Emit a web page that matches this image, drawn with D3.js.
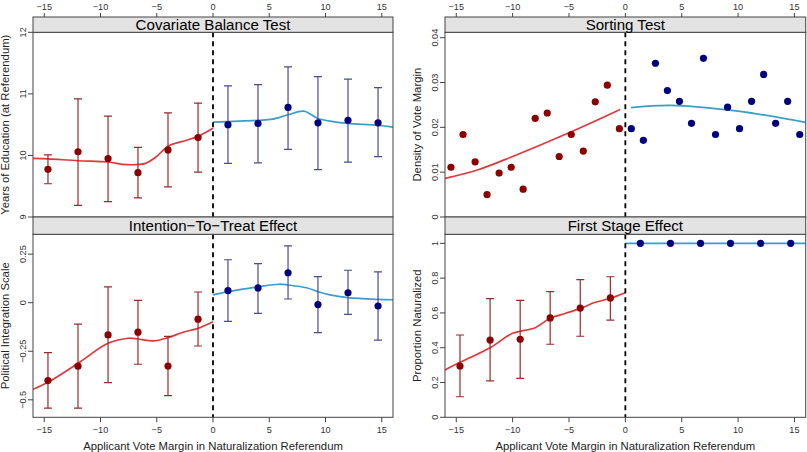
<!DOCTYPE html>
<html><head><meta charset="utf-8">
<script src="https://cdn.jsdelivr.net/npm/d3@7/dist/d3.min.js"></script>
<style>body{margin:0;background:#fff}svg{display:block;font-family:"Liberation Sans",Arial,sans-serif}</style>
</head><body><svg id="c" width="807" height="452"></svg>
<script>
// ---- data ----
const xTicks = [-15, -10, -5, 0, 5, 10, 15];
const xTickLabels = ["\u221215", "\u221210", "\u22125", "0", "5", "10", "15"];
const binLeft = [-14.67, -12, -9.33, -6.67, -4, -1.33];
const binRight = [1.33, 4, 6.67, 9.33, 12, 14.67];

// Covariate balance
const covLeft = [9.775, 10.06, 9.95, 9.72, 10.09, 10.29];
const covLeftHi = [10.01, 10.92, 10.64, 10.13, 10.69, 10.85];
const covLeftLo = [9.54, 9.19, 9.25, 9.31, 9.49, 9.73];
const covRight = [10.50, 10.52, 10.78, 10.53, 10.57, 10.53];
const covRightHi = [11.13, 11.15, 11.44, 11.28, 11.24, 11.10];
const covRightLo = [9.87, 9.88, 10.10, 9.77, 9.89, 9.98];
const covFitLX = [-16, -14.67, -12, -9.33, -7.7, -6.0, -5.1, -4, -2.67, -1.33, 0];
const covFitLY = [9.953, 9.945, 9.914, 9.893, 9.85, 9.872, 9.97, 10.15, 10.23, 10.31, 10.44];
const covFitRX = [0, 4, 5.3, 6.67, 8.07, 9.33, 10.67, 12, 14.67, 16];
const covFitRY = [10.54, 10.57, 10.59, 10.66, 10.72, 10.60, 10.55, 10.52, 10.49, 10.46];
const covTicks = [9, 10, 11, 12];
const covTickLabels = ["9", "10", "11", "12"];

// Intention-to-treat
const ittLeft = [-0.401, -0.327, -0.166, -0.152, -0.326, -0.085];
const ittLeftHi = [-0.257, -0.110, 0.081, 0.012, -0.173, 0.055];
const ittLeftLo = [-0.543, -0.543, -0.411, -0.317, -0.478, -0.223];
const ittRight = [0.062, 0.076, 0.154, -0.010, 0.051, -0.017];
const ittRightHi = [0.221, 0.201, 0.292, 0.134, 0.167, 0.159];
const ittRightLo = [-0.096, -0.055, 0.019, -0.154, -0.060, -0.193];
const ittFitLX = [-16, -14.67, -12, -9.33, -7.5, -6.67, -5.3, -4, -2.67, -1.33, 0];
const ittFitLY = [-0.446, -0.41, -0.312, -0.209, -0.183, -0.187, -0.197, -0.180, -0.152, -0.132, -0.098];
const ittFitRX = [0, 1.33, 4, 5.9, 6.67, 8.3, 9.33, 10.4, 12, 14.67, 16];
const ittFitRY = [0.040, 0.057, 0.082, 0.095, 0.091, 0.077, 0.057, 0.040, 0.026, 0.017, 0.015];
const ittTicks = [-0.5, -0.25, 0, 0.25];
const ittTickLabels = ["\u22120.5", "\u22120.25", "0", "0.25"];

// Sorting test
const sortLeftX = [-15.47, -14.4, -13.33, -12.27, -11.2, -10.13, -9.07, -8.0, -6.93, -5.87, -4.8, -3.73, -2.67, -1.6, -0.53];
const sortLeftY = [0.0111, 0.0184, 0.0123, 0.0050, 0.0098, 0.0111, 0.0062, 0.0220, 0.0232, 0.0135, 0.0184, 0.0147, 0.0257, 0.0294, 0.0197];
const sortRightX = [0.53, 1.6, 2.67, 3.73, 4.8, 5.87, 6.93, 8.0, 9.07, 10.13, 11.2, 12.27, 13.33, 14.4, 15.47];
const sortRightY = [0.0197, 0.0171, 0.0343, 0.0282, 0.0258, 0.0209, 0.0354, 0.0184, 0.0245, 0.0197, 0.0258, 0.0318, 0.0209, 0.0258, 0.0184];
const sortFitLX = [-16, -13, -10, -5, -0.47];
const sortFitLY = [0.0086, 0.0106, 0.0135, 0.0188, 0.0240];
const sortFitRX = [0.5, 4, 10, 16];
const sortFitRY = [0.0244, 0.0249, 0.0236, 0.0211];
const sortTicks = [0, 0.01, 0.02, 0.03, 0.04];
const sortTickLabels = ["0", "0.01", "0.02", "0.03", "0.04"];

// First stage
const fsLeft = [0.295, 0.444, 0.448, 0.571, 0.628, 0.686];
const fsLeftHi = [0.473, 0.682, 0.672, 0.722, 0.791, 0.808];
const fsLeftLo = [0.118, 0.209, 0.224, 0.420, 0.466, 0.559];
const fsRight = [1, 1, 1, 1, 1, 1];
const fsFitLX = [-16, -14.67, -12, -10, -8, -6.67, -5.3, -4, -2.67, -1.33, 0];
const fsFitLY = [0.272, 0.316, 0.400, 0.483, 0.515, 0.569, 0.598, 0.626, 0.661, 0.684, 0.716];
const fsFitRX = [0, 16];
const fsFitRY = [1, 1];
const fsTicks = [0, 0.2, 0.4, 0.6, 0.8, 1];
const fsTickLabels = ["0", "0.2", "0.4", "0.6", "0.8", "1"];

const titles = ["Covariate Balance Test", "Intention\u2212To\u2212Treat Effect", "Sorting Test", "First Stage Effect"];
const yTitles = ["Years of Education (at Referendum)", "Political Integration Scale", "Density of Vote Margin", "Proportion Naturalized"];
const xTitle = "Applicant Vote Margin in Naturalization Referendum";

// ---- styles ----
const C = {
  redPt: "#8b0000", redBar: "#9a2a2a", redLine: "#e0383a",
  bluePt: "#00007f", blueBar: "#4a4a96", blueLine: "#3a9ec8",
  strip: "#e3e3e3", border: "#444"
};

const svg = d3.select("#c");

// font sizes chosen so text widths match the reference
function sizeFor(str, targetW) {
  const t = svg.append("text").attr("font-size", 100).text(str);
  const w = t.node().getComputedTextLength();
  t.remove();
  return 100 * targetW / w;
}
const labelSize = sizeFor(xTitle, 260);
const tickSize = sizeFor("\u221215", 15.5);
const titleSize = sizeFor(titles[0], 155);

const cols = [[33, 393], [445, 805.7]];
const rows = [{strip: 17, top: 32.3, bottom: 217}, {strip: 217, top: 234.3, bottom: 417.3}];

function panel(col, row, cfg) {
  const [x0, x1] = cols[col];
  const r = rows[row];
  const x = d3.scaleLinear().domain([-16, 16]).range([x0, x1]);
  const y = d3.scaleLinear().domain(cfg.ydom).range([r.bottom, r.top]);
  const g = svg.append("g");
  const clipId = "clip" + col + row;
  svg.append("clipPath").attr("id", clipId).append("rect")
    .attr("x", x0).attr("y", r.top).attr("width", x1 - x0).attr("height", r.bottom - r.top);
  const pg = g.append("g").attr("clip-path", `url(#${clipId})`);

  // fit lines
  const line = d3.line().x(d => x(d[0])).y(d => y(d[1])).curve(d3.curveCatmullRom.alpha(0.5));
  pg.append("path").datum(d3.zip(cfg.fitLX, cfg.fitLY)).attr("d", line)
    .attr("fill", "none").attr("stroke", C.redLine).attr("stroke-width", 1.7);
  pg.append("path").datum(d3.zip(cfg.fitRX, cfg.fitRY)).attr("d", line)
    .attr("fill", "none").attr("stroke", C.blueLine).attr("stroke-width", 1.7);

  // error bars
  function bars(xs, hi, lo, col) {
    if (!hi) return;
    xs.forEach((xv, i) => {
      const bx = x(xv);
      const eg = pg.append("g").attr("stroke", col).attr("stroke-width", 1.2);
      eg.append("line").attr("x1", bx).attr("x2", bx).attr("y1", y(hi[i])).attr("y2", y(lo[i]));
      eg.append("line").attr("x1", bx - 4).attr("x2", bx + 4).attr("y1", y(hi[i])).attr("y2", y(hi[i]));
      eg.append("line").attr("x1", bx - 4).attr("x2", bx + 4).attr("y1", y(lo[i])).attr("y2", y(lo[i]));
    });
  }
  bars(cfg.lx, cfg.lhi, cfg.llo, C.redBar);
  bars(cfg.rx, cfg.rhi, cfg.rlo, C.blueBar);

  // points
  pg.selectAll(null).data(d3.zip(cfg.lx, cfg.ly)).join("circle")
    .attr("cx", d => x(d[0])).attr("cy", d => y(d[1])).attr("r", 3.6).attr("fill", C.redPt);
  pg.selectAll(null).data(d3.zip(cfg.rx, cfg.ry)).join("circle")
    .attr("cx", d => x(d[0])).attr("cy", d => y(d[1])).attr("r", 3.6).attr("fill", C.bluePt);

  // cutoff line
  g.append("line").attr("x1", x(0)).attr("x2", x(0)).attr("y1", r.top).attr("y2", r.bottom)
    .attr("stroke", "#000").attr("stroke-width", 1.8).attr("stroke-dasharray", "5,4");

  // box
  g.append("rect").attr("x", x0).attr("y", r.top).attr("width", x1 - x0).attr("height", r.bottom - r.top)
    .attr("fill", "none").attr("stroke", C.border).attr("stroke-width", 1);
  // strip
  g.append("rect").attr("x", x0).attr("y", r.strip).attr("width", x1 - x0).attr("height", r.top - r.strip)
    .attr("fill", C.strip).attr("stroke", C.border).attr("stroke-width", 1);
  g.append("text").attr("x", (x0 + x1) / 2).attr("y", (r.strip + r.top) / 2 + titleSize * 0.36)
    .attr("text-anchor", "middle").attr("font-size", titleSize).attr("fill", "#000").text(cfg.title);

  // y axis
  const ya = g.append("g");
  cfg.yticks.forEach((t, i) => {
    const yy = y(t);
    ya.append("line").attr("x1", x0 - 5).attr("x2", x0).attr("y1", yy).attr("y2", yy).attr("stroke", C.border);
    ya.append("text").attr("transform", `translate(${x0 - 7},${yy}) rotate(-90)`)
      .attr("text-anchor", "middle").attr("font-size", tickSize).attr("fill", "#333").text(cfg.ytickLabels[i]);
  });
  g.append("text").attr("transform", `translate(${x0 - 24},${(r.top + r.bottom) / 2}) rotate(-90)`)
    .attr("text-anchor", "middle").attr("font-size", labelSize).attr("fill", "#222").text(cfg.ytitle);

  // x axis
  if (row === 0) {
    xTicks.forEach((t, i) => {
      g.append("line").attr("x1", x(t)).attr("x2", x(t)).attr("y1", r.strip - 4).attr("y2", r.strip).attr("stroke", C.border);
      g.append("text").attr("x", x(t)).attr("y", 10).attr("text-anchor", "middle")
        .attr("font-size", tickSize).attr("fill", "#333").text(xTickLabels[i]);
    });
  } else {
    xTicks.forEach((t, i) => {
      g.append("line").attr("x1", x(t)).attr("x2", x(t)).attr("y1", r.bottom).attr("y2", r.bottom + 5).attr("stroke", C.border);
      g.append("text").attr("x", x(t)).attr("y", r.bottom + 15.5).attr("text-anchor", "middle")
        .attr("font-size", tickSize).attr("fill", "#333").text(xTickLabels[i]);
    });
    g.append("text").attr("x", (x0 + x1) / 2).attr("y", 449.5).attr("text-anchor", "middle")
      .attr("font-size", labelSize).attr("fill", "#222").text(xTitle);
  }
}

panel(0, 0, {ydom: [9, 12], yticks: covTicks, ytickLabels: covTickLabels, title: titles[0], ytitle: yTitles[0],
  lx: binLeft, ly: covLeft, lhi: covLeftHi, llo: covLeftLo, rx: binRight, ry: covRight, rhi: covRightHi, rlo: covRightLo,
  fitLX: covFitLX, fitLY: covFitLY, fitRX: covFitRX, fitRY: covFitRY});
panel(0, 1, {ydom: [-0.59, 0.352], yticks: ittTicks, ytickLabels: ittTickLabels, title: titles[1], ytitle: yTitles[1],
  lx: binLeft, ly: ittLeft, lhi: ittLeftHi, llo: ittLeftLo, rx: binRight, ry: ittRight, rhi: ittRightHi, rlo: ittRightLo,
  fitLX: ittFitLX, fitLY: ittFitLY, fitRX: ittFitRX, fitRY: ittFitRY});
panel(1, 0, {ydom: [0, 0.0412], yticks: sortTicks, ytickLabels: sortTickLabels, title: titles[2], ytitle: yTitles[2],
  lx: sortLeftX, ly: sortLeftY, rx: sortRightX, ry: sortRightY,
  fitLX: sortFitLX, fitLY: sortFitLY, fitRX: sortFitRX, fitRY: sortFitRY});
panel(1, 1, {ydom: [0, 1.052], yticks: fsTicks, ytickLabels: fsTickLabels, title: titles[3], ytitle: yTitles[3],
  lx: binLeft, ly: fsLeft, lhi: fsLeftHi, llo: fsLeftLo, rx: binRight, ry: fsRight,
  fitLX: fsFitLX, fitLY: fsFitLY, fitRX: fsFitRX, fitRY: fsFitRY});
</script></body></html>
